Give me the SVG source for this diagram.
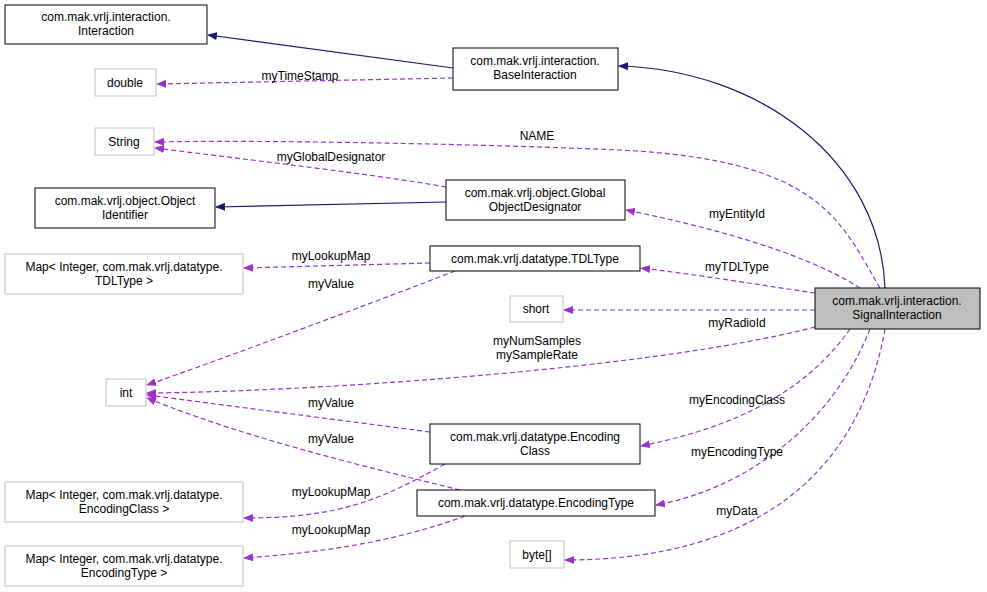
<svg xmlns="http://www.w3.org/2000/svg" width="987" height="592" viewBox="0 0 987 592">
<style>
text{font-family:"Liberation Sans",Arial,sans-serif;font-size:12px;fill:#000;text-anchor:middle}
.b{fill:#fff;stroke:#000;stroke-width:1}
.g{fill:#fff;stroke:#bfbfbf;stroke-width:1}
.n{fill:none;stroke:#191970;stroke-width:1.2}
.p{fill:none;stroke:#9a32cd;stroke-width:1.2;stroke-dasharray:5,3}
</style>
<defs>
<marker id="an" markerWidth="10" markerHeight="8" refX="9" refY="4" orient="auto" markerUnits="userSpaceOnUse"><path d="M0,0L10,4L0,8z" fill="#191970"/></marker>
<marker id="ap" markerWidth="10" markerHeight="8" refX="9" refY="4" orient="auto" markerUnits="userSpaceOnUse"><path d="M0,0L10,4L0,8z" fill="#9a32cd"/></marker>
</defs>
<rect width="987" height="592" fill="#fff"/>
<g id="edges">
<path class="n" marker-end="url(#an)" d="M453,68L208,35"/>
<path class="n" marker-end="url(#an)" d="M885,288C880,160 760,70 619,66"/>
<path class="n" marker-end="url(#an)" d="M446,202L216,207"/>
<path class="p" marker-end="url(#ap)" d="M453,78L157,84"/>
<path class="p" marker-end="url(#ap)" d="M880,288C840,220 820,160 620,150C450,143 250,140 155,142"/>
<path class="p" marker-end="url(#ap)" d="M446,187C380,175 250,160 155,148"/>
<path class="p" marker-end="url(#ap)" d="M860,288C800,250 700,225 626,210"/>
<path class="p" marker-end="url(#ap)" d="M815,293C760,285 700,275 641,268"/>
<path class="p" marker-end="url(#ap)" d="M430,263L244,268"/>
<path class="p" marker-end="url(#ap)" d="M455,271C380,300 220,360 147,385"/>
<path class="p" marker-end="url(#ap)" d="M815,310L564,310"/>
<path class="p" marker-end="url(#ap)" d="M815,327C650,370 300,392 147,393"/>
<path class="p" marker-end="url(#ap)" d="M430,432L147,395"/>
<path class="p" marker-end="url(#ap)" d="M460,490C380,470 250,440 147,398"/>
<path class="p" marker-end="url(#ap)" d="M850,329C800,400 720,430 641,446"/>
<path class="p" marker-end="url(#ap)" d="M870,329C830,430 740,490 656,505"/>
<path class="p" marker-end="url(#ap)" d="M885,329C860,470 760,560 565,560"/>
<path class="p" marker-end="url(#ap)" d="M445,464C380,500 340,518 244,518"/>
<path class="p" marker-end="url(#ap)" d="M465,516C400,540 330,552 244,558"/>
</g>
<g id="labels">
<text x="300" y="80">myTimeStamp</text>
<text x="537" y="140">NAME</text>
<text x="331" y="161">myGlobalDesignator</text>
<text x="737" y="218">myEntityId</text>
<text x="737" y="271">myTDLType</text>
<text x="331" y="260">myLookupMap</text>
<text x="331" y="288">myValue</text>
<text x="737" y="327">myRadioId</text>
<text x="537" y="345">myNumSamples</text>
<text x="537" y="359">mySampleRate</text>
<text x="331" y="407">myValue</text>
<text x="331" y="443">myValue</text>
<text x="737" y="404">myEncodingClass</text>
<text x="737" y="456">myEncodingType</text>
<text x="737" y="515">myData</text>
<text x="331" y="496">myLookupMap</text>
<text x="331" y="534">myLookupMap</text>
</g>
<g id="Interaction"><rect class="b" x="5" y="5" width="202" height="39"/><text x="106" y="21">com.mak.vrlj.interaction.</text><text x="106" y="35">Interaction</text></g>
<g id="double"><rect class="g" x="95" y="69" width="61" height="27"/><text x="125" y="87">double</text></g>
<g id="BaseInteraction"><rect class="b" x="453" y="48" width="165" height="42"/><text x="535" y="65">com.mak.vrlj.interaction.</text><text x="535" y="79">BaseInteraction</text></g>
<g id="String"><rect class="g" x="95" y="128" width="59" height="27"/><text x="124" y="146">String</text></g>
<g id="ObjectIdentifier"><rect class="b" x="35" y="188" width="180" height="40"/><text x="125" y="205">com.mak.vrlj.object.Object</text><text x="125" y="219">Identifier</text></g>
<g id="GlobalObjectDesignator"><rect class="b" x="446" y="180" width="179" height="40"/><text x="535" y="197">com.mak.vrlj.object.Global</text><text x="535" y="211">ObjectDesignator</text></g>
<g id="MapTDLType"><rect class="g" x="5" y="254" width="238" height="40"/><text x="124" y="271">Map&lt; Integer, com.mak.vrlj.datatype.</text><text x="124" y="285">TDLType &gt;</text></g>
<g id="TDLType"><rect class="b" x="430" y="246" width="210" height="25"/><text x="535" y="263">com.mak.vrlj.datatype.TDLType</text></g>
<g id="short"><rect class="g" x="510" y="296" width="53" height="26"/><text x="536" y="313">short</text></g>
<g id="SignalInteraction"><rect x="815" y="288" width="165" height="41" fill="#bfbfbf" stroke="#000"/><text x="897" y="305">com.mak.vrlj.interaction.</text><text x="897" y="319">SignalInteraction</text></g>
<g id="int"><rect class="g" x="106" y="379" width="40" height="27"/><text x="126" y="397">int</text></g>
<g id="EncodingClass"><rect class="b" x="430" y="424" width="210" height="40"/><text x="535" y="441">com.mak.vrlj.datatype.Encoding</text><text x="535" y="455">Class</text></g>
<g id="MapEncodingClass"><rect class="g" x="5" y="482" width="238" height="40"/><text x="124" y="499">Map&lt; Integer, com.mak.vrlj.datatype.</text><text x="124" y="513">EncodingClass &gt;</text></g>
<g id="EncodingType"><rect class="b" x="417" y="490" width="238" height="26"/><text x="536" y="507">com.mak.vrlj.datatype.EncodingType</text></g>
<g id="MapEncodingType"><rect class="g" x="5" y="546" width="238" height="40"/><text x="124" y="563">Map&lt; Integer, com.mak.vrlj.datatype.</text><text x="124" y="577">EncodingType &gt;</text></g>
<g id="byte"><rect class="g" x="510" y="541" width="54" height="27"/><text x="537" y="559">byte[]</text></g>
</svg>
